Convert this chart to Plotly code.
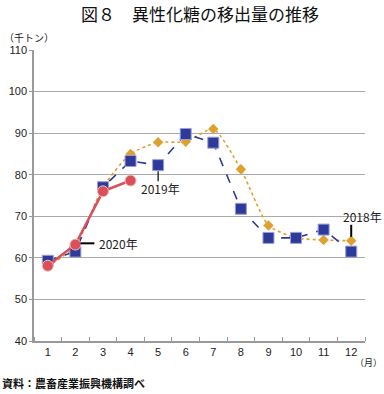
import plotly.graph_objects as go

months = [1, 2, 3, 4, 5, 6, 7, 8, 9, 10, 11, 12]
y2018 = [58.0, 62.8, 77.0, 85.0, 87.8, 87.9, 91.0, 81.3, 67.8, 64.8, 64.3, 64.1]
y2019 = [59.3, 61.5, 77.0, 83.3, 82.3, 89.8, 87.7, 71.8, 64.8, 64.8, 66.8, 61.5]
y2020 = [58.1, 63.2, 76.0, 78.6]

JP = "Noto Sans CJK JP"
SANS = "Liberation Sans"

fig = go.Figure()
fig.add_trace(go.Scatter(
    x=months, y=y2018, mode="lines+markers", name="2018年",
    line=dict(color="#E0A030", width=1.6, dash="dot", shape="spline", smoothing=0.6),
    marker=dict(symbol="diamond", size=8, color="#E0A030"),
))
fig.add_trace(go.Scatter(
    x=months, y=y2019, mode="lines+markers", name="2019年",
    line=dict(color="#2E3A9A", width=1.6, dash="dash"),
    marker=dict(symbol="square", size=11, color="#2E3A9A",
                line=dict(color="#9A9FDA", width=1)),
))
fig.add_trace(go.Scatter(
    x=months[:len(y2020)], y=y2020, mode="lines+markers", name="2020年",
    line=dict(color="#D9505A", width=2.5),
    marker=dict(symbol="circle", size=11, color="#D9505A",
                line=dict(color="#F2C0C4", width=1)),
))

# leader lines
fig.add_shape(type="line", xref="x", yref="y", xsizemode="scaled", ysizemode="pixel",
              x0=months[4], x1=months[4], yanchor=y2019[4], y0=-6, y1=-16,
              line=dict(color="black", width=1.2))
fig.add_shape(type="line", xref="x", yref="y", xsizemode="pixel", ysizemode="scaled",
              xanchor=months[1], x0=5, x1=19, y0=y2020[1] + 0.3, y1=y2020[1] + 0.3,
              line=dict(color="black", width=2))
fig.add_shape(type="line", xref="x", yref="y", xsizemode="scaled", ysizemode="pixel",
              x0=months[11], x1=months[11], yanchor=y2018[11], y0=4, y1=16,
              line=dict(color="black", width=2))

fig.add_annotation(x=months[4], y=y2019[4], yshift=-23, xshift=2, text="2019年", showarrow=False,
                   font=dict(family=JP, size=12, color="#222"))
fig.add_annotation(x=months[1], y=y2020[1], xshift=43, yshift=1, text="2020年", showarrow=False,
                   font=dict(family=JP, size=12, color="#222"))
fig.add_annotation(x=months[11], y=y2018[11], xshift=11, yshift=24, text="2018年", showarrow=False,
                   font=dict(family=JP, size=12, color="#222"))

fig.add_annotation(xref="paper", yref="paper", x=0.5, y=1.0, yshift=37, xanchor="center",
                   yanchor="middle", text="図８　異性化糖の移出量の推移", showarrow=False,
                   font=dict(family=JP, size=17, color="#111"))
fig.add_annotation(xref="paper", yref="paper", x=0, y=1.0, xshift=-32, yshift=13, xanchor="left",
                   yanchor="middle", text="（千トン）", showarrow=False,
                   font=dict(family=JP, size=10, color="#222"))
fig.add_annotation(xref="paper", yref="paper", x=1.0, y=0, xshift=19, yshift=-21, xanchor="right",
                   yanchor="middle", text="（月）", showarrow=False,
                   font=dict(family=JP, size=9, color="#222"))
fig.add_annotation(xref="paper", yref="paper", x=0, y=0, xshift=-34, yshift=-42, xanchor="left",
                   yanchor="middle", text="<b>資料：農畜産業振興機構調べ</b>", showarrow=False,
                   font=dict(family=JP, size=11, color="#111"))

fig.update_layout(
    width=384, height=394,
    margin=dict(l=34, r=19, t=50, b=53),
    paper_bgcolor="white", plot_bgcolor="white",
    showlegend=False,
    font=dict(family=SANS, size=12, color="#222"),
)
fig.update_xaxes(
    range=[0.5, 12.5], tickvals=months, ticks="", automargin=False,
    minor=dict(tick0=0.5, dtick=1, ticks="inside", ticklen=4, tickcolor="#999", showgrid=False),
    showline=True, linecolor="#999", linewidth=1.5,
    showgrid=False, zeroline=False, tickfont=dict(family=SANS, size=11, color="#222"),
)
fig.update_yaxes(
    range=[40, 110], dtick=10, tick0=40, automargin=False,
    ticks="outside", ticklen=3, tickcolor="#999",
    showline=True, linecolor="#999", linewidth=1.5,
    showgrid=True, gridcolor="#aaaaaa", gridwidth=1,
    zeroline=False, tickfont=dict(family=SANS, size=11, color="#222"),
)

fig.write_html("out.html", config={"displayModeBar": False},
               post_script="document.body.style.margin='0';document.body.style.overflow='hidden';")
